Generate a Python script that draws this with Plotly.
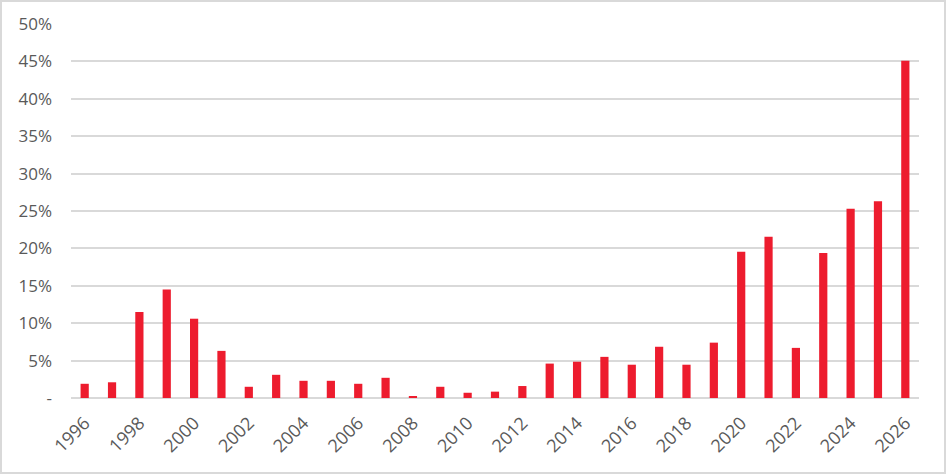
import plotly.graph_objects as go

years = [str(y) for y in range(1996, 2027)]
values = [1.9, 2.1, 11.5, 14.5, 10.6, 6.3, 1.5, 3.1, 2.3, 2.3,
          1.9, 2.7, 0.2, 1.5, 0.7, 0.85, 1.6, 4.6, 4.85, 5.5,
          4.45, 6.85, 4.45, 7.4, 19.55, 21.55, 6.7, 19.4, 25.3, 26.3, 45.1]
shown_years = [str(y) for y in range(1996, 2027, 2)]
y_tick_vals = [0, 5, 10, 15, 20, 25, 30, 35, 40, 45, 50]
y_tick_text = ["-", "5%", "10%", "15%", "20%", "25%", "30%", "35%", "40%", "45%", "50%"]

W, H = 947, 475
ml, mr, mt, mb = 71, 28, 24, 77
pw, ph = W - ml - mr, H - mt - mb

fig = go.Figure()
fig.add_trace(go.Bar(x=years, y=values, marker=dict(color="#ED1C2E", line=dict(width=0)),
                     hoverinfo="x+y"))

font_fam = "Open Sans"
fig.update_layout(
    width=W, height=H,
    margin=dict(l=ml, r=mr, t=mt, b=mb, pad=0, autoexpand=False),
    paper_bgcolor="white", plot_bgcolor="white",
    bargap=0.7,
    showlegend=False,
    font=dict(family=font_fam, color="#595959", size=17),
    xaxis=dict(type="category", tickmode="array", tickvals=shown_years, ticktext=shown_years,
               tickangle=-45, showgrid=False, showline=False, ticks="", automargin=False,
               ticklabelstandoff=10,
               tickfont=dict(size=18, color="#595959"), range=[-0.5, len(years) - 0.5]),
    yaxis=dict(range=[0, 50], tickmode="array", tickvals=y_tick_vals, ticktext=y_tick_text,
               showgrid=True, gridcolor="#d9d9d9", gridwidth=1.5, zeroline=True, automargin=False,
               zerolinecolor="#d9d9d9", zerolinewidth=1.5, showline=False, ticks="",
               ticklabelstandoff=18, tickfont=dict(size=17, color="#595959")),
)

# outer chart border
fig.add_shape(type="rect", xref="paper", yref="paper",
              x0=(1 - ml) / pw, x1=(W - 2 - ml) / pw,
              y0=-(H - 2 - mt - ph) / ph, y1=1 + (mt - 1) / ph,
              line=dict(color="#d9d9d9", width=2), fillcolor="rgba(0,0,0,0)", layer="below")

fig.write_html("out.html", config={"displayModeBar": False},
               post_script="document.body.style.margin='0';document.body.style.overflow='hidden';")
